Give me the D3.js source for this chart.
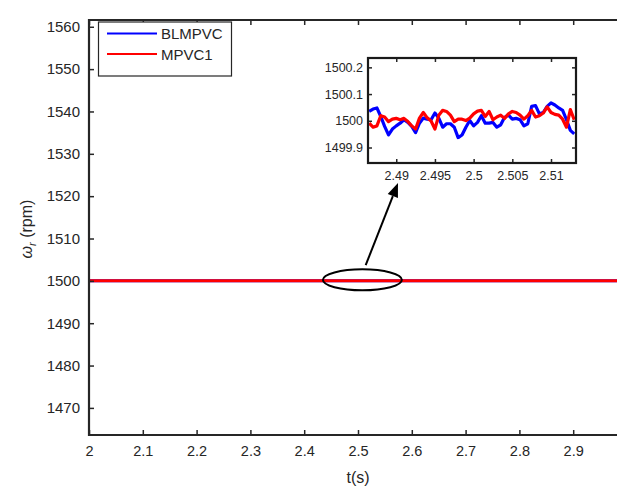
<!DOCTYPE html>
<html><head><meta charset="utf-8">
<script src="https://cdn.jsdelivr.net/npm/d3@7"></script>
<style>
body{margin:0;background:#fff}
svg{display:block}
text{font-family:"Liberation Sans",Arial,Helvetica,sans-serif;fill:#262626}
</style>
</head><body>
<svg id="c" width="617" height="490"></svg>
<script>
// ---- data ----
const seriesNames = ["BLMPVC", "MPVC1"];
const seriesColors = ["#0000ff", "#ff0000"];

const mainTimes = [2.0, 2.1, 2.2, 2.3, 2.4, 2.5, 2.6, 2.7, 2.8, 2.9, 3.0];
const mainBLMPVC = [1500, 1500, 1500, 1500, 1500, 1500, 1500, 1500, 1500, 1500, 1500];
const mainMPVC1  = [1500, 1500, 1500, 1500, 1500, 1500, 1500, 1500, 1500, 1500, 1500];

const xTicks = [2, 2.1, 2.2, 2.3, 2.4, 2.5, 2.6, 2.7, 2.8, 2.9];
const yTicks = [1470, 1480, 1490, 1500, 1510, 1520, 1530, 1540, 1550, 1560];

const insetTimes = [2.4865, 2.4870, 2.4875, 2.4880, 2.4885, 2.4890, 2.4895, 2.4900, 2.4905, 2.4910,
  2.4915, 2.4920, 2.4925, 2.4930, 2.4935, 2.4940, 2.4945, 2.4950, 2.4955, 2.4960,
  2.4965, 2.4970, 2.4975, 2.4980, 2.4985, 2.4990, 2.4995, 2.5000, 2.5005, 2.5010,
  2.5015, 2.5020, 2.5025, 2.5030, 2.5035, 2.5040, 2.5045, 2.5050, 2.5055, 2.5060,
  2.5065, 2.5070, 2.5075, 2.5080, 2.5085, 2.5090, 2.5095, 2.5100, 2.5105, 2.5110,
  2.5115, 2.5120, 2.5125, 2.5130];
const insetBLMPVC = [1500.035, 1500.044, 1500.048, 1500.016, 1499.979, 1499.947, 1499.969, 1499.981, 1499.991, 1500.004,
  1499.994, 1499.979, 1499.956, 1499.991, 1500.010, 1500.006, 1500.004, 1500.029, 1500.010, 1499.976,
  1499.989, 1499.989, 1499.976, 1499.937, 1499.947, 1499.976, 1500.001, 1499.981, 1499.994, 1500.019,
  1499.991, 1499.991, 1499.994, 1499.976, 1499.985, 1500.013, 1500.021, 1500.006, 1500.009, 1500.004,
  1499.981, 1499.989, 1500.054, 1500.057, 1500.026, 1500.031, 1500.054, 1500.067, 1500.059, 1500.048,
  1500.039, 1500.004, 1499.964, 1499.951];
const insetMPVC1 = [1499.991, 1499.976, 1499.981, 1500.019, 1500.014, 1499.997, 1500.006, 1500.009, 1500.004, 1500.009,
  1499.997, 1499.981, 1499.969, 1500.010, 1500.031, 1500.011, 1499.999, 1499.969, 1500.021, 1500.039,
  1500.035, 1500.021, 1499.997, 1500.006, 1500.006, 1500.001, 1500.010, 1500.026, 1500.036, 1500.039,
  1500.016, 1500.035, 1500.004, 1500.014, 1500.021, 1500.009, 1500.026, 1500.035, 1500.031, 1500.021,
  1500.006, 1500.019, 1500.039, 1500.014, 1500.019, 1500.029, 1500.052, 1500.031, 1500.024, 1500.021,
  1500.006, 1499.976, 1500.042, 1500.004];
const insetXTicks = [2.49, 2.495, 2.5, 2.505, 2.51];
const insetYTicks = [1499.9, 1500, 1500.1, 1500.2];

// ---- layout ----
const svg = d3.select("#c");
const axisColor = "#262626";
const W = 617;
const L = 89, T = 20, B = 435, R = 627;
const x = d3.scaleLinear().domain([2, 3]).range([L, R]);
const y = d3.scaleLinear().domain([1463.6, 1561.6]).range([B, T]);

svg.append("defs").append("clipPath").attr("id", "mclip")
  .append("rect").attr("x", L).attr("y", T).attr("width", W - L).attr("height", B - T);

const line = d3.line().x(d => x(d[0])).y(d => y(d[1]));
const mainSeries = [mainBLMPVC, mainMPVC1];
const gm = svg.append("g").attr("clip-path", "url(#mclip)");
mainSeries.forEach((vals, i) => {
  gm.append("path")
    .attr("d", line(mainTimes.map((t, k) => [t, vals[k]])))
    .attr("fill", "none").attr("stroke", seriesColors[i]).attr("stroke-width", 3);
});

// axes
function styleAxis(g) {
  g.select(".domain").remove();
  g.selectAll(".tick line").attr("stroke", axisColor).attr("stroke-width", 1.5);
  g.selectAll(".tick text").attr("fill", axisColor);
}
svg.append("g").attr("transform", `translate(0,${B})`)
  .call(d3.axisBottom(x).tickValues(xTicks).tickSize(-5).tickPadding(11).tickFormat(d3.format("")))
  .attr("font-size", 14.5).attr("font-family", null)
  .call(styleAxis);
svg.append("g").attr("transform", `translate(0,${T})`)
  .call(d3.axisTop(x).tickValues(xTicks).tickSize(-5).tickFormat(""))
  .call(styleAxis);
svg.append("g").attr("transform", `translate(${L},0)`)
  .call(d3.axisLeft(y).tickValues(yTicks).tickSize(-5).tickPadding(9).tickFormat(d3.format("")))
  .attr("font-size", 15).attr("font-family", null)
  .call(styleAxis);

svg.append("path")
  .attr("d", `M${W},${T}H${L}V${B}H${W}`)
  .attr("fill", "none").attr("stroke", axisColor).attr("stroke-width", 2.2);

// axis labels
svg.append("text").attr("x", x(2.5)).attr("y", 483).attr("text-anchor", "middle")
  .attr("font-size", 16).text("t(s)");
const yl = svg.append("text").attr("transform", "translate(32,229) rotate(-90)")
  .attr("text-anchor", "middle").attr("font-size", 16);
yl.append("tspan").attr("font-style", "italic").text("ω");
yl.append("tspan").attr("font-style", "italic").attr("font-size", 11).attr("dy", 4).text("r");
yl.append("tspan").attr("dy", -4).text(" (rpm)");

// ellipse + arrow annotation
const ecx = x(2.51), ecy = y(1500);
svg.append("ellipse").attr("cx", ecx - 1).attr("cy", ecy - 1).attr("rx", 39.5).attr("ry", 10.5)
  .attr("fill", "none").attr("stroke", "#000").attr("stroke-width", 2);
const a0 = [x(2.5143), y(1503.7)], a1 = [x(2.5743), y(1523.1)];
const ang = Math.atan2(a1[1] - a0[1], a1[0] - a0[0]);
const hl = 14, hw = 5.5;
const base = [a1[0] - hl * Math.cos(ang), a1[1] - hl * Math.sin(ang)];
svg.append("line").attr("x1", a0[0]).attr("y1", a0[1]).attr("x2", base[0]).attr("y2", base[1])
  .attr("stroke", "#000").attr("stroke-width", 2);
svg.append("polygon").attr("points", [
  a1,
  [base[0] + hw * Math.sin(ang), base[1] - hw * Math.cos(ang)],
  [base[0] - hw * Math.sin(ang), base[1] + hw * Math.cos(ang)]
].map(p => p.join(",")).join(" ")).attr("fill", "#000");

// legend
const lg = svg.append("g");
lg.append("rect").attr("x", 98.5).attr("y", 22).attr("width", 133).attr("height", 54)
  .attr("fill", "#fff").attr("stroke", axisColor).attr("stroke-width", 1.2);
seriesNames.forEach((n, i) => {
  const yy = 33.5 + i * 20.5;
  lg.append("line").attr("x1", 107).attr("x2", 157).attr("y1", yy).attr("y2", yy)
    .attr("stroke", seriesColors[i]).attr("stroke-width", 2);
  lg.append("text").attr("x", 161).attr("y", yy + 5.5).attr("font-size", 15).text(n);
});

// inset
const IL = 368, IR = 576, IT = 58, IB = 163;
const ix = d3.scaleLinear().domain([2.48635, 2.51323]).range([IL, IR]);
const iy = d3.scaleLinear().domain([1499.842, 1500.235]).range([IB, IT]);
svg.append("rect").attr("x", IL).attr("y", IT).attr("width", IR - IL).attr("height", IB - IT).attr("fill", "#fff");
svg.append("defs").append("clipPath").attr("id", "iclip")
  .append("rect").attr("x", IL).attr("y", IT).attr("width", IR - IL).attr("height", IB - IT);
const iline = d3.line().x(d => ix(d[0])).y(d => iy(d[1]));
const gi = svg.append("g").attr("clip-path", "url(#iclip)");
[insetBLMPVC, insetMPVC1].forEach((vals, i) => {
  gi.append("path")
    .attr("d", iline(insetTimes.map((t, k) => [t, vals[k]])))
    .attr("fill", "none").attr("stroke", seriesColors[i]).attr("stroke-width", 3.2)
    .attr("stroke-linejoin", "round");
});
svg.append("g").attr("transform", `translate(0,${IB})`)
  .call(d3.axisBottom(ix).tickValues(insetXTicks).tickSize(-4).tickPadding(8).tickFormat(d3.format("")))
  .attr("font-size", 12.5).attr("font-family", null).call(styleAxis);
svg.append("g").attr("transform", `translate(0,${IT})`)
  .call(d3.axisTop(ix).tickValues(insetXTicks).tickSize(-4).tickFormat("")).call(styleAxis);
svg.append("g").attr("transform", `translate(${IL},0)`)
  .call(d3.axisLeft(iy).tickValues(insetYTicks).tickSize(-4).tickPadding(5).tickFormat(d3.format("")))
  .attr("font-size", 12.5).attr("font-family", null).call(styleAxis);
svg.append("g").attr("transform", `translate(${IR},0)`)
  .call(d3.axisRight(iy).tickValues(insetYTicks).tickSize(-4).tickFormat("")).call(styleAxis);
svg.append("rect").attr("x", IL).attr("y", IT).attr("width", IR - IL).attr("height", IB - IT)
  .attr("fill", "none").attr("stroke", "#1a1a1a").attr("stroke-width", 2.2);
</script>
</body></html>
